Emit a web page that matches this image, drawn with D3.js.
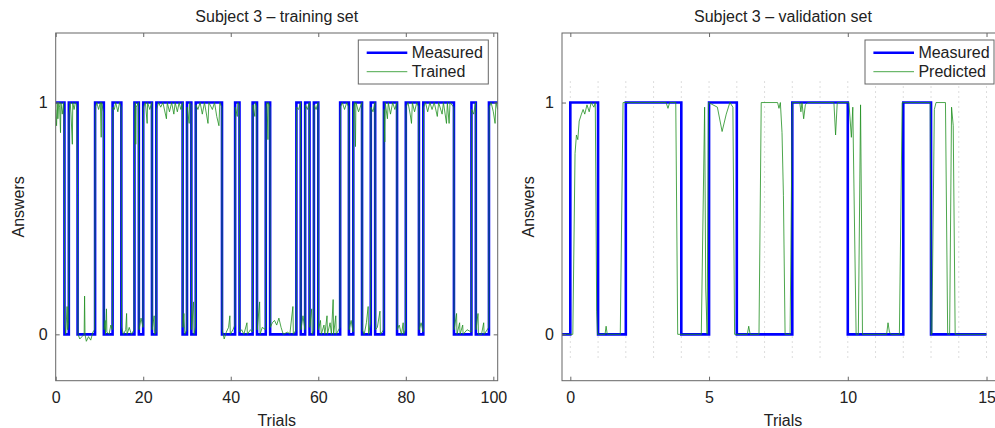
<!DOCTYPE html>
<html><head><meta charset="utf-8">
<script src="https://cdn.jsdelivr.net/npm/d3@7"></script>
<style>
html,body{margin:0;padding:0;background:#fff;}
svg text{font-family:"Liberation Sans",Arial,Helvetica,sans-serif;fill:#222;}
</style></head>
<body><svg id="c" width="995" height="428"></svg>
<script>
// ---------------- DATA ----------------
// Training set: measured answer for each trial 0..100 (value held over [i, i+1])
const trainMeasured = [
 1,1,0,1,1,0,0,0,0,1,
 1,0,0,1,1,0,0,0,1,0,
 1,1,0,1,1,1,1,1,1,0,
 1,0,1,1,1,1,1,1,0,0,
 0,1,0,0,0,1,0,0,1,0,
 0,0,0,0,0,1,0,1,0,1,
 0,0,0,0,0,1,1,0,1,1,
 0,0,1,0,0,1,1,1,0,0,
 1,1,1,0,1,1,1,1,1,1,
 1,0,0,0,0,1,0,0,0,1,
 1];
const trainEnd = 101;
// Trained network output [trial, answer]
const trainTrained = [
 [0,0.97],[0.2,0.9],[0.35,1.0],[0.5,0.93],[0.7,1.0],[0.9,0.98],[1.1,0.87],[1.2,1.0],[1.5,0.95],[1.8,1.0],[1.95,0.9],[2.05,0.05],
 [2.3,0.0],[2.6,0.12],[2.75,0.02],[2.95,0.05],[3.05,0.95],
 [3.3,1.0],[3.5,0.95],[3.8,0.82],[3.9,1.0],[4.2,0.97],[4.5,1.0],[4.8,0.99],[5.0,0.6],[5.1,0],
 [5.5,-0.02],[6.0,-0.01],[6.5,0.0],[6.6,0.165],[6.7,0.0],[7.0,-0.03],[7.5,-0.01],[8.0,-0.025],[8.5,0.01],[8.9,0.02],[9.05,0.98],
 [9.4,1.0],[9.8,0.97],[10.2,1.0],[10.4,0.85],[10.5,1.0],[10.9,0.96],[11.05,0.02],
 [11.3,0.06],[11.4,0.0],[11.6,0.11],[11.7,0.01],[12.2,0.0],[12.6,0.04],[12.95,0.02],[13.05,0.98],
 [13.4,0.97],[13.7,1.0],[14.2,0.96],[14.6,1.0],[14.95,0.98],[15.05,0.03],
 [15.5,0.0],[16.0,0.02],[16.2,0.09],[16.3,0.0],[16.8,0.03],[17.3,0.0],[17.9,0.02],[18.05,0.97],
 [18.2,1.0],[18.3,0.82],[18.4,0.98],[18.9,1.0],[19.05,0.02],
 [19.5,0.07],[19.95,0.03],[20.05,0.98],
 [20.5,1.0],[20.9,0.91],[21.0,1.0],[21.5,0.97],[21.95,1.0],[22.05,0.02],
 [22.5,0.08],[22.6,0.0],[22.95,0.01],[23.05,0.97],
 [23.5,1.0],[24.0,0.98],[24.5,1.0],[25.3,0.93],[25.5,1.0],[26.0,0.96],[26.5,1.0],[27.0,0.95],[27.3,1.0],[27.8,0.96],[28.2,1.0],[28.6,0.97],[28.95,1.0],[29.05,0.03],
 [29.3,0.09],[29.5,0.0],[29.95,0.02],[30.05,0.98],
 [30.5,0.91],[30.6,1.0],[30.95,0.99],[31.05,0.02],
 [31.5,0.14],[31.6,0.0],[31.95,0.03],[32.05,0.99],
 [32.5,0.97],[33.0,1.0],[33.5,0.95],[34.0,1.0],[34.8,0.91],[35.0,1.0],[35.8,0.97],[36.3,1.0],[36.8,0.94],[37.3,0.9],[37.5,1.0],[37.95,0.98],[38.05,0.02],
 [38.5,-0.02],[39.0,0.01],[39.5,0.03],[39.8,0.08],[39.9,0.0],[40.5,0.02],[40.95,0.04],[41.05,0.98],
 [41.5,0.94],[41.6,1.0],[41.95,0.99],[42.05,0.01],
 [42.5,0.02],[43.0,0.0],[43.7,0.05],[43.8,0.0],[44.5,0.02],[44.95,0.01],[45.05,0.99],
 [45.5,0.94],[45.6,1.0],[45.95,0.98],[46.05,0.02],
 [46.6,0.14],[46.7,0.0],[47.2,0.03],[47.95,0.02],[48.05,0.98],
 [48.3,1.0],[48.5,0.84],[48.6,1.0],[48.95,0.98],[49.05,0.03],
 [49.5,0.05],[50.0,0.06],[50.5,0.04],[51.0,0.07],[51.5,0.03],[52.0,0.0],[53.0,0.01],[53.5,0.0],[54.2,0.12],[54.3,0.0],[54.95,0.02],[55.05,0.98],
 [55.5,0.97],[55.95,1.0],[56.05,0.02],
 [56.5,0.08],[56.95,0.02],[57.05,0.99],
 [57.5,0.97],[57.95,1.0],[58.05,0.03],
 [58.5,0.11],[58.6,0.0],[58.95,0.02],[59.05,0.99],
 [59.5,0.97],[59.95,1.0],[60.05,0.02],
 [60.5,0.06],[60.7,0.0],[61.3,0.04],[61.5,0.0],[62.0,0.08],[62.1,0.0],[62.7,0.05],[63.0,0.0],[63.4,0.15],[63.5,0.0],[64.0,0.08],[64.1,0.0],[64.95,0.03],[65.05,0.98],
 [65.5,1.0],[66.0,0.97],[66.5,1.0],[66.95,0.98],[67.05,0.02],
 [67.5,0.06],[67.95,0.01],[68.05,0.98],
 [68.3,1.0],[68.5,0.81],[68.6,1.0],[69.2,0.96],[69.95,1.0],[70.05,0.02],
 [70.5,0.0],[71.0,0.05],[71.4,0.12],[71.5,0.0],[71.95,0.05],[72.05,0.98],
 [72.5,0.96],[72.95,1.0],[73.05,0.02],
 [73.5,0.03],[74.1,0.1],[74.2,0.0],[74.95,0.02],[75.05,0.97],
 [75.2,0.83],[75.3,1.0],[75.8,0.93],[76.0,1.0],[76.5,0.95],[77.0,1.0],[77.5,0.97],[77.95,1.0],[78.05,0.02],
 [78.5,0.04],[79.0,0.0],[79.4,0.05],[79.5,0.0],[79.95,0.02],[80.05,0.98],
 [80.5,1.0],[81.0,0.95],[81.3,0.91],[81.5,1.0],[82.0,0.96],[82.5,1.0],[82.95,0.98],[83.05,0.02],
 [83.5,0.05],[83.95,0.01],[84.05,0.98],
 [84.5,1.0],[85.0,0.96],[85.5,1.0],[86.0,0.97],[86.5,1.0],[87.2,0.94],[87.5,1.0],[88.3,0.95],[88.6,1.0],[89.3,0.91],[89.5,1.0],[89.9,0.91],[90.1,1.0],[90.95,0.98],[91.05,0.02],
 [91.6,0.09],[91.7,0.0],[92.3,0.05],[92.4,0.0],[93.0,0.04],[93.1,0.0],[94.0,0.02],[94.95,0.01],[95.05,0.97],
 [95.5,0.95],[95.95,1.0],[96.05,0.02],
 [96.5,0.09],[96.6,0.0],[97.3,0.0],[97.8,0.05],[97.9,0.0],[98.95,0.03],[99.05,0.98],
 [99.5,1.0],[100.0,0.96],[100.4,0.91],[100.6,1.0],[101,0.97]
];

// Validation set: measured answer for trials 0..14, with the lead-in before trial 0
const valLead = [-0.3, 0];
const valMeasured = [1,0,1,1,0,1,0,0,1,1,0,0,1,0,0];
const valEnd = 15;
// Predicted network output [trial, answer]
const valPredicted = [
 [-0.3,0],[0.09,0],[0.17,0.78],[0.22,0.86],[0.27,0.84],[0.32,0.92],[0.4,0.95],[0.46,0.97],[0.52,0.95],[0.6,0.99],[0.68,0.96],[0.75,1.0],[0.85,0.98],[0.9,1.0],[0.95,0.1],[0.98,0],
 [1.25,0],[1.29,0.035],[1.33,0],[1.8,0],[1.9,1.0],[3.45,1.0],[3.52,0.975],[3.58,1.0],[3.8,1.0],[3.87,0],
 [4.72,0],[4.84,0.98],[4.88,0.2],[4.93,0],[4.98,1.0],[5.3,0.98],[5.47,0.875],[5.62,0.95],[5.75,1.0],[5.86,0.98],[5.92,0],
 [6.38,0],[6.43,0.035],[6.48,0],[6.8,0],[6.88,1.0],[7.47,1.0],[7.52,0.975],[7.57,1.0],[7.63,0.87],[7.68,0.6],[7.74,0],
 [7.92,0],[8.0,1.0],[8.27,1.0],[8.31,0.96],[8.35,1.0],[8.41,0.93],[8.47,0.99],[8.55,1.0],[9.5,1.0],[9.56,0.86],[9.62,1.0],
 [10.04,1.0],[10.13,0.85],[10.18,0.98],[10.3,0],[10.38,0],[10.46,0.99],[10.53,0],
 [11.4,0],[11.45,0.05],[11.5,0.01],[11.56,0],[11.86,0],[11.96,1.0],[12.97,1.0],[13.0,0],[13.03,0],[13.12,0.97],[13.18,1.0],
 [13.52,1.0],[13.6,0],[13.67,0],[13.74,0.98],[13.8,0.9],[13.87,0],[15,0]
];

const xTicksTrain = [0,20,40,60,80,100];
const xTicksVal = [0,5,10,15];
const yTicks = [0,1];
const titles = ["Subject 3 \u2013 training set","Subject 3 \u2013 validation set"];
const legendTrain = ["Measured","Trained"];
const legendVal = ["Measured","Predicted"];
const xLabel = "Trials";
const yLabel = "Answers";

// ---------------- LAYOUT ----------------
const svg = d3.select("#c");
const yTop = 33, yBottom = 380.7;
const blue = "#0000ff", green = "#1f8f1f", boxColor = "#666";

function stepPoints(lead, vals, end){
  const pts = [];
  if (lead) pts.push(lead);
  vals.forEach((v,i)=>pts.push([i,v]));
  pts.push([end, vals[vals.length-1]]);
  return pts;
}

function panel(opt){
  const x = d3.scaleLinear().domain(opt.xDomain).range([opt.left, opt.right]);
  const y = d3.scaleLinear().domain([-0.2,1.3]).range([yBottom, yTop]);
  const g = svg.append("g");
  const cid = "clip"+opt.id;
  svg.append("clipPath").attr("id",cid).append("rect")
    .attr("x",opt.left).attr("y",yTop).attr("width",opt.right-opt.left).attr("height",yBottom-yTop);

  g.append("rect").attr("x",opt.left).attr("y",yTop).attr("width",opt.right-opt.left)
    .attr("height",yBottom-yTop).attr("fill","#fff");

  const plot = g.append("g").attr("clip-path",`url(#${cid})`);

  if (opt.grid){
    plot.selectAll("line.grid").data(opt.grid).join("line")
      .attr("x1",d=>x(d)).attr("x2",d=>x(d))
      .attr("y1",y(-0.1)).attr("y2",y(1.1))
      .attr("stroke","#aaa").attr("stroke-width",0.8).attr("stroke-dasharray","1,4");
  }

  const line = d3.line().x(d=>x(d[0])).y(d=>y(d[1]));
  plot.append("path").datum(opt.measured)
    .attr("d", d3.line().x(d=>x(d[0])).y(d=>y(d[1])).curve(d3.curveStepAfter))
    .attr("fill","none").attr("stroke",blue).attr("stroke-width",2.6).attr("stroke-linejoin","miter");
  plot.append("path").datum(opt.model)
    .attr("d", line).attr("fill","none").attr("stroke",green).attr("stroke-width",0.8);

  const ax = (gen, tr) => g.append("g").attr("transform",tr).call(gen)
     .call(s=>s.select(".domain").remove())
     .call(s=>s.selectAll(".tick line").attr("stroke",boxColor))
     .call(s=>s.selectAll(".tick text").attr("font-size",16).attr("fill","#222")
        .style("font-family","'Liberation Sans',Arial,sans-serif"));
  ax(d3.axisBottom(x).tickValues(opt.xTicks).tickSize(-4).tickPadding(11).tickFormat(d3.format("d")), `translate(0,${yBottom})`);
  ax(d3.axisTop(x).tickValues(opt.xTicks).tickSize(-4).tickFormat(""), `translate(0,${yTop})`);
  ax(d3.axisLeft(y).tickValues(yTicks).tickSize(-4).tickPadding(8).tickFormat(d3.format("d")), `translate(${opt.left},0)`);
  ax(d3.axisRight(y).tickValues(yTicks).tickSize(-4).tickFormat(""), `translate(${opt.right},0)`);

  g.append("rect").attr("x",opt.left).attr("y",yTop).attr("width",opt.right-opt.left)
    .attr("height",yBottom-yTop).attr("fill","none").attr("stroke",boxColor).attr("stroke-width",1);

  const cx = (opt.left+opt.right)/2;
  g.append("text").attr("x",cx).attr("y",22).attr("text-anchor","middle").attr("font-size",16).text(opt.title);
  g.append("text").attr("x",cx).attr("y",426).attr("text-anchor","middle").attr("font-size",16).text(xLabel);
  g.append("text").attr("transform",`translate(${opt.ylabX},${(yTop+yBottom)/2}) rotate(-90)`)
    .attr("text-anchor","middle").attr("font-size",16).text(yLabel);

  const L = opt.legend;
  const lg = g.append("g");
  lg.append("rect").attr("x",L.x).attr("y",40).attr("width",L.w).attr("height",44)
    .attr("fill","#fff").attr("stroke",boxColor).attr("stroke-width",1);
  const rows = [{t:opt.legendText[0],c:blue,w:2.6,y:52.7},{t:opt.legendText[1],c:"#4aa84a",w:1,y:71.7}];
  rows.forEach(r=>{
    lg.append("line").attr("x1",L.x+8.4).attr("x2",L.x+49).attr("y1",r.y).attr("y2",r.y)
      .attr("stroke",r.c).attr("stroke-width",r.w);
    lg.append("text").attr("x",L.x+53.4).attr("y",r.y).attr("dy","0.36em").attr("font-size",16).text(r.t);
  });
}

panel({id:"a", left:55.7, right:497.7, xDomain:[0,101], xTicks:xTicksTrain,
  measured: stepPoints(null, trainMeasured, trainEnd), model: trainTrained,
  title:titles[0], legendText:legendTrain, legend:{x:358.3,w:130}, ylabX:24});
panel({id:"b", left:562, right:1004, xDomain:[-0.3,15.63], xTicks:xTicksVal,
  measured: stepPoints(valLead, valMeasured, valEnd), model: valPredicted,
  grid: d3.range(0,16),
  title:titles[1], legendText:legendVal, legend:{x:865,w:129}, ylabX:534});
</script></body></html>
